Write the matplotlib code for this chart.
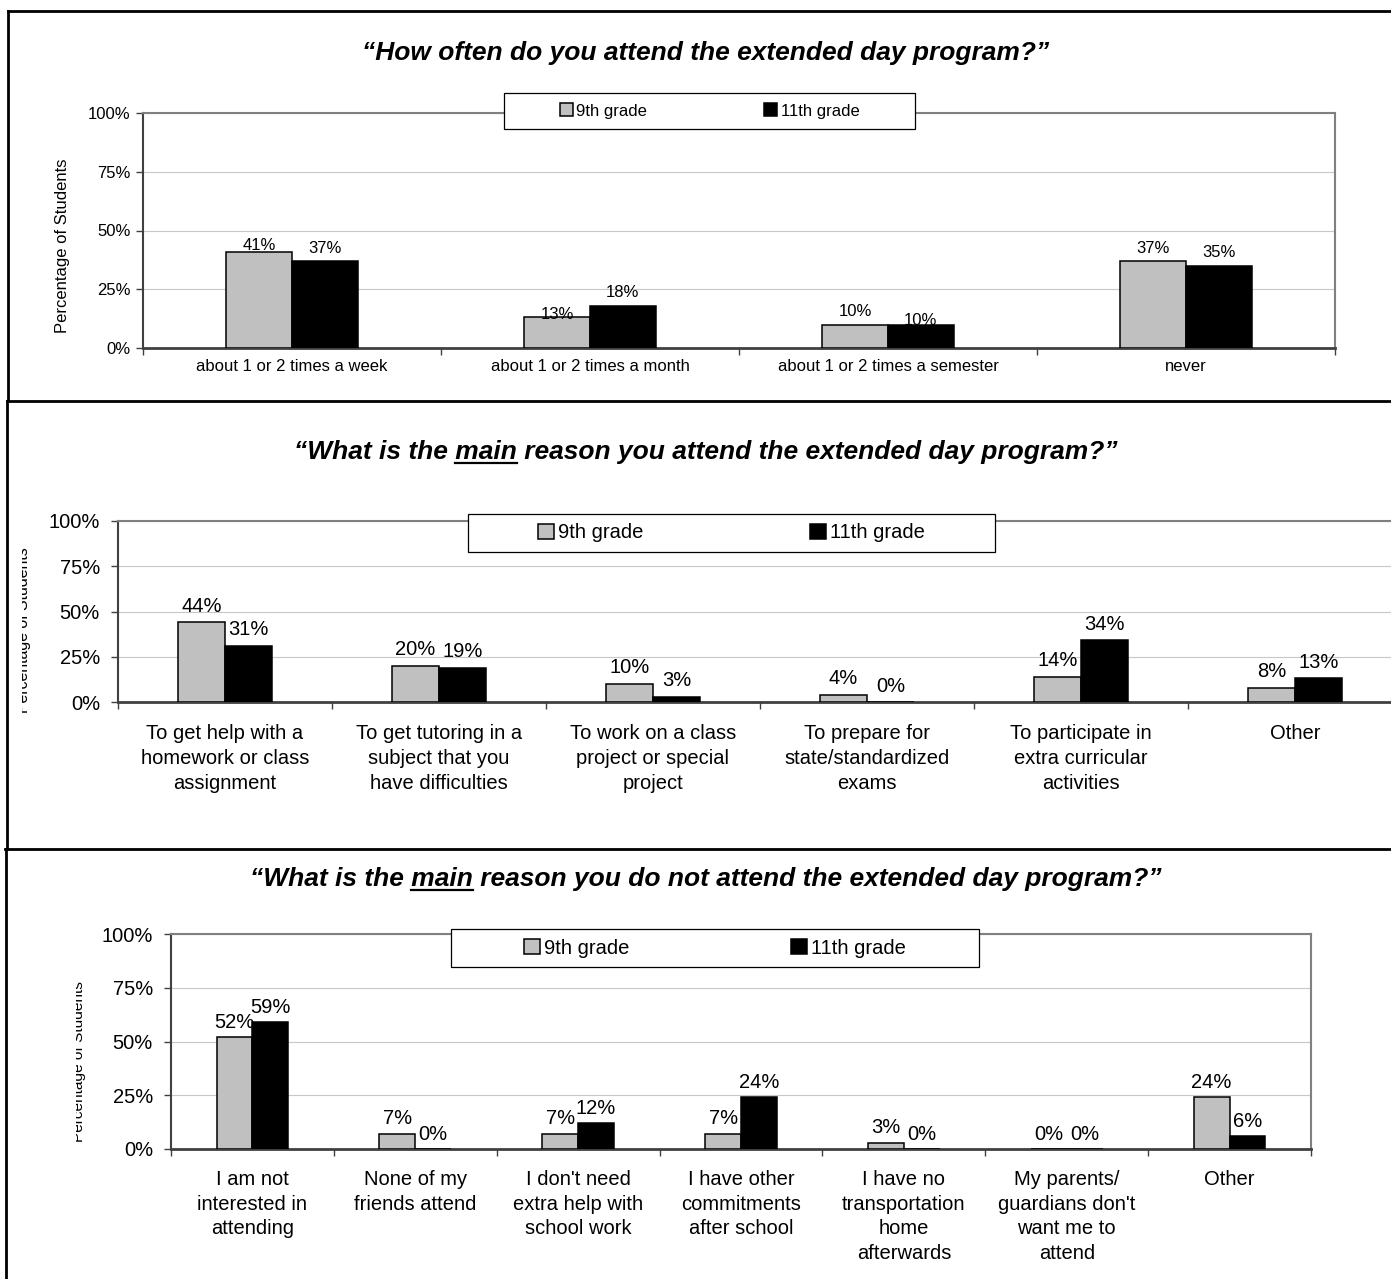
import numpy as np
import matplotlib
matplotlib.use('Agg')
import matplotlib.pyplot as plt
from matplotlib.patches import Patch, Rectangle
from matplotlib.lines import Line2D
from matplotlib.transforms import Bbox

plt.rcParams['font.family'] = ['Liberation Sans', 'DejaVu Sans']

# data
grades = ['9th grade', '11th grade']

freq_cats = ['about 1 or 2 times a week', 'about 1 or 2 times a month',
             'about 1 or 2 times a semester', 'never']
freq_9 = [41, 13, 10, 37]
freq_11 = [37, 18, 10, 35]

attend_cats = ['To get help with a\nhomework or class\nassignment',
               'To get tutoring in a\nsubject that you\nhave difficulties',
               'To work on a class\nproject or special\nproject',
               'To prepare for\nstate/standardized\nexams',
               'To participate in\nextra curricular\nactivities',
               'Other']
attend_9 = [44, 20, 10, 4, 14, 8]
attend_11 = [31, 19, 3, 0, 34, 13]

noattend_cats = ['I am not\ninterested in\nattending',
                 'None of my\nfriends attend',
                 "I don't need\nextra help with\nschool work",
                 'I have other\ncommitments\nafter school',
                 'I have no\ntransportation\nhome\nafterwards',
                 "My parents/\nguardians don't\nwant me to\nattend",
                 'Other']
noattend_9 = [52, 7, 7, 7, 3, 0, 24]
noattend_11 = [59, 0, 12, 24, 0, 0, 6]

W, H = 1391, 1279
fig = plt.figure(figsize=(W / 100, H / 100), dpi=100)
PX = 72 / 100  # points per pixel


def fx(x):
    return x / W


def fy(y):
    return 1 - y / H


def add_axes_px(x0, y0, x1, y1):
    return fig.add_axes([fx(x0), fy(y1), (x1 - x0) / W, (y1 - y0) / H])


def draw_panel(ax, cats, v9, v11, fs, lab_off, ypad, xpad, nudge=None):
    n = len(cats)
    centers = np.arange(n) + 0.5
    w = 0.22
    ax.bar(centers - w / 2, v9, w, color='#c0c0c0', edgecolor='black', lw=1.1, zorder=3)
    ax.bar(centers + w / 2, v11, w, color='black', edgecolor='black', lw=1.1, zorder=3)
    for k, vals in enumerate([v9, v11]):
        for i, v in enumerate(vals):
            off = lab_off
            if nudge and (i, k) in nudge:
                off += nudge[(i, k)]
            ax.annotate(f'{v}%', (centers[i] + (k - 0.5) * w, v), xytext=(0, off * PX),
                        textcoords='offset points', ha='center', va='center',
                        fontsize=fs, zorder=4)
    ax.set_xlim(0, n)
    ax.set_ylim(0, 100)
    ax.set_yticks([0, 25, 50, 75, 100])
    ax.set_yticklabels(['0%', '25%', '50%', '75%', '100%'])
    ax.yaxis.grid(True, color='#c8c8c8', lw=0.8)
    ax.set_axisbelow(True)
    ax.tick_params(axis='y', direction='out', length=5, width=1, color='#404040',
                   labelsize=fs, pad=ypad)
    ax.set_xticks(np.arange(n + 1))
    ax.set_xticklabels([])
    ax.tick_params(axis='x', which='major', direction='out', length=5, width=1, color='#404040')
    ax.set_xticks(centers, minor=True)
    ax.set_xticklabels(cats, minor=True, fontsize=fs, linespacing=1.38)
    ax.tick_params(axis='x', which='minor', length=0, pad=xpad)
    for s in ['top', 'right']:
        ax.spines[s].set_color('#808080')
        ax.spines[s].set_linewidth(1.5)
    ax.spines['left'].set_color('#404040')
    ax.spines['left'].set_linewidth(1.5)
    ax.spines['bottom'].set_color('#404040')
    ax.spines['bottom'].set_linewidth(2)


def add_legend(x0, y0, x1, y1, fs, cs):
    fig.add_artist(Rectangle((fx(x0), fy(y1)), (x1 - x0) / W, (y1 - y0) / H,
                             transform=fig.transFigure, facecolor='white',
                             edgecolor='black', lw=0.9, zorder=4))
    handles = [Patch(facecolor='#c0c0c0', edgecolor='black', lw=1.1),
               Patch(facecolor='black', edgecolor='black', lw=1.1)]
    leg = fig.legend(handles, grades, loc='center',
                     bbox_to_anchor=(fx((x0 + x1) / 2), fy((y0 + y1) / 2)),
                     ncol=2, frameon=False, fontsize=fs, handlelength=0.8,
                     handleheight=0.8, handletextpad=0.2, columnspacing=cs,
                     borderpad=0, borderaxespad=0)
    leg.set_zorder(6)


def add_title(text, cx, cy, under=None):
    kw = dict(fontsize=19, fontweight='bold', fontstyle='italic')
    t = fig.text(fx(cx), fy(cy), text, ha='center', va='center', **kw)
    if under:
        r = fig.canvas.get_renderer()
        bb = t.get_window_extent(r)
        pre = text[:text.index(under) + len(under)]
        tmp = fig.text(0, 0, pre, **kw)
        w_pre = tmp.get_window_extent(r).width
        tmp.remove()
        tmp = fig.text(0, 0, under, **kw)
        w_u = tmp.get_window_extent(r).width
        tmp.remove()
        xa = bb.x0 + w_pre - w_u
        xb = bb.x0 + w_pre
        yl = cy + 11
        fig.add_artist(Line2D([fx(xa), fx(xb)], [fy(yl), fy(yl)], color='black', lw=1.6,
                              transform=fig.transFigure))


def add_ylabel(x, y, fs, clip_x=None):
    t = fig.text(fx(x), fy(y), 'Percentage of Students', rotation=90,
                 ha='center', va='center', fontsize=fs)
    if clip_x is not None:
        t.set_clip_box(Bbox.from_extents(clip_x, 0, W, H))
        t.set_clip_on(True)


def hline(x0, x1, y):
    fig.add_artist(Line2D([fx(x0), fx(x1)], [fy(y), fy(y)], color='black', lw=2,
                          transform=fig.transFigure, zorder=7))


def vline(x, y0, y1):
    fig.add_artist(Line2D([fx(x), fx(x)], [fy(y0), fy(y1)], color='black', lw=2,
                          transform=fig.transFigure, zorder=7))


# panel 1
ax1 = add_axes_px(143, 113, 1335, 348)
draw_panel(ax1, freq_cats, freq_9, freq_11, 12, 13, 4, 8,
           nudge={(0, 0): -7, (1, 0): -10, (2, 1): -9})
add_legend(504, 93, 915, 129, 12, 7.0)
add_title('\u201cHow often do you attend the extended day program?\u201d', 706, 53)
add_ylabel(62, 246, 12)

# panel 2
ax2 = add_axes_px(118, 521, 1402, 702)
draw_panel(ax2, attend_cats, attend_9, attend_11, 14.5, 16, 8, 16)
add_legend(468, 514, 995, 552, 14.5, 8.3)
add_title('\u201cWhat is the main reason you attend the extended day program?\u201d',
          706, 452, under='main')
add_ylabel(24, 630, 11.4, clip_x=21.5)

# panel 3
ax3 = add_axes_px(171, 934, 1311, 1149)
draw_panel(ax3, noattend_cats, noattend_9, noattend_11, 14.5, 15, 8, 15)
add_legend(451, 929, 979, 967, 14.5, 8.0)
add_title('\u201cWhat is the main reason you do not attend the extended day program?\u201d',
          706, 879, under='main')
add_ylabel(79, 1062, 11.1, clip_x=75.5)

# panel borders
hline(8, W, 11)
vline(8, 11, 401)
hline(7, W, 401)
vline(7, 401, 849)
hline(5, W, 849)
vline(6, 849, H)

fig.savefig('out.png', dpi=100)
